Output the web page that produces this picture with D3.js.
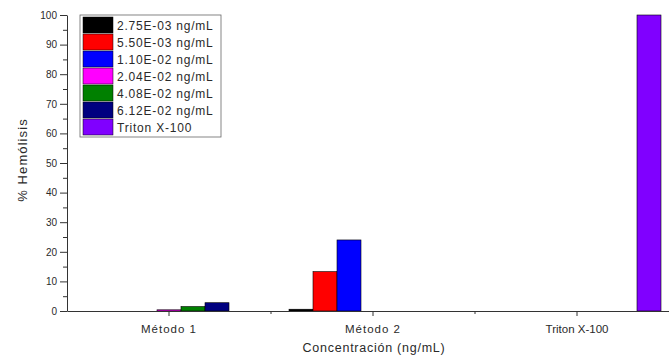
<!DOCTYPE html>
<html>
<head>
<meta charset="utf-8">
<script src="https://cdn.jsdelivr.net/npm/d3@7"></script>
<style>
  html, body { margin: 0; padding: 0; background: #fff; }
  svg { display: block; font-family: "Liberation Sans", Arial, sans-serif; }
</style>
</head>
<body>
<svg id="chart" width="669" height="358"></svg>
<script>
// Categories on the x axis
const categories = ["Método 1", "Método 2", "Triton X-100"];
// Series (legend) labels and bar colours
const seriesLabels = ["2.75E-03 ng/mL", "5.50E-03 ng/mL", "1.10E-02 ng/mL",
  "2.04E-02 ng/mL", "4.08E-02 ng/mL", "6.12E-02 ng/mL", "Triton X-100"];
const seriesColors = ["#000000", "#ff0000", "#0000ff", "#ff00ff", "#008000", "#000080", "#8000ff"];
// % hemolysis per series, one value per category
const s275 = [0, 0.6, 0];
const s550 = [0, 13.3, 0];
const s110 = [0, 24.0, 0];
const s204 = [0.4, 0, 0];
const s408 = [1.5, 0, 0];
const s612 = [2.8, 0, 0];
const sTriton = [0, 0, 100];
const seriesValues = [s275, s550, s110, s204, s408, s612, sTriton];
// Y tick values
const yTicks = [0, 10, 20, 30, 40, 50, 60, 70, 80, 90, 100];

const svg = d3.select("#chart");
const plotLeft = 67, plotTop = 15, plotBottom = 311;
const bandW = 204;
const plotRight = plotLeft + bandW * categories.length;

const x = d3.scaleBand().domain(categories).range([plotLeft, plotRight]).padding(0);
const xs = d3.scaleBand().domain(d3.range(seriesLabels.length))
  .range([18, bandW - 18]).padding(0);
const y = d3.scaleLinear().domain([0, 100]).range([plotBottom, plotTop]);

const textColor = "#2a2a2a";

// Bars
const bars = [];
seriesValues.forEach((vals, si) => {
  vals.forEach((v, ci) => bars.push({ si, ci, v }));
});
svg.append("g").selectAll("rect")
  .data(bars.filter(d => d.v > 0))
  .join("rect")
  .attr("x", d => x(categories[d.ci]) + xs(d.si))
  .attr("width", xs.bandwidth())
  .attr("y", d => y(d.v))
  .attr("height", d => y(0) - y(d.v))
  .attr("fill", d => seriesColors[d.si])
  .attr("stroke", "#000")
  .attr("stroke-width", 0.6);

// Y axis with major and minor ticks
const yAxis = svg.append("g").attr("transform", `translate(${plotLeft},0)`)
  .call(d3.axisLeft(y).tickValues(yTicks).tickSize(7).tickSizeOuter(0).tickPadding(3));
svg.append("g").attr("transform", `translate(${plotLeft},0)`)
  .call(d3.axisLeft(y).tickValues(d3.range(5, 100, 10)).tickSize(4).tickFormat("").tickSizeOuter(0))
  .call(g => g.select(".domain").remove())
  .selectAll("line").attr("stroke", "#333");
yAxis.selectAll("text").attr("font-size", 10).attr("fill", textColor);
yAxis.selectAll("line, path").attr("stroke", "#333");

// X axis: major ticks at categories, minor ticks between them
const xAxis = svg.append("g").attr("transform", `translate(0,${plotBottom})`)
  .call(d3.axisBottom(x).tickSize(5).tickSizeOuter(0).tickPadding(9));
xAxis.selectAll("text").attr("font-size", 11.5).attr("fill", textColor)
  .attr("letter-spacing", (d, i) => i < 2 ? 1 : 0);
xAxis.selectAll("line, path").attr("stroke", "#333");
const minorX = d3.range(1, categories.length).map(i => plotLeft + i * bandW);
svg.append("g").selectAll("line").data(minorX).join("line")
  .attr("x1", d => d).attr("x2", d => d)
  .attr("y1", plotBottom).attr("y2", plotBottom + 3)
  .attr("stroke", "#333");

// Axis titles
svg.append("text")
  .attr("x", 374).attr("y", 352)
  .attr("text-anchor", "middle")
  .attr("font-size", 12.5).attr("letter-spacing", 0.75).attr("fill", textColor)
  .text("Concentración (ng/mL)");
svg.append("text")
  .attr("transform", "translate(27,160) rotate(-90)")
  .attr("text-anchor", "middle")
  .attr("font-size", 13).attr("letter-spacing", 1.1).attr("fill", textColor)
  .text("% Hemólisis");

// Legend
const lg = svg.append("g");
const lgX = 80, lgY = 15, rowH = 17;
lg.append("rect")
  .attr("x", lgX).attr("y", lgY)
  .attr("width", 141).attr("height", rowH * seriesLabels.length + 3)
  .attr("fill", "#fff").attr("stroke", "#666").attr("stroke-width", 0.8);
const rows = lg.selectAll("g.row").data(seriesLabels).join("g")
  .attr("class", "row")
  .attr("transform", (d, i) => `translate(${lgX + 3},${lgY + 2 + i * rowH})`);
rows.append("rect")
  .attr("width", 30).attr("height", rowH - 1)
  .attr("fill", (d, i) => seriesColors[i])
  .attr("stroke", "#000").attr("stroke-width", 0.5);
rows.append("text")
  .attr("x", 34).attr("y", rowH / 2 + 4)
  .attr("font-size", 12).attr("letter-spacing", 0.8).attr("fill", textColor)
  .text(d => d);
</script>
</body>
</html>
